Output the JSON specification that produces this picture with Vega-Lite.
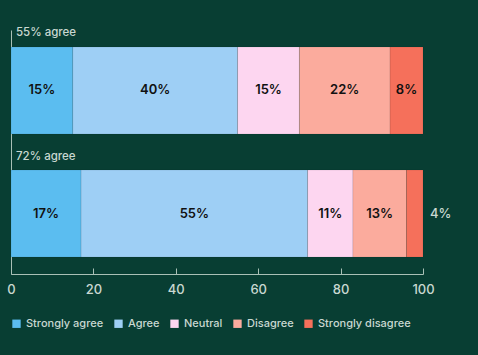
{
  "$schema": "https://vega.github.io/schema/vega-lite/v6.json",
  "autosize": "none",
  "width": 412,
  "height": 244,
  "padding": {"left": 11, "top": 30, "right": 55, "bottom": 81},
  "background": "#083e33",
  "config": {
    "view": {"stroke": null},
    "font": "Inter",
    "axis": {"labelColor": "#c9d8d1", "domainColor": "#a9c0b6", "tickColor": "#a9c0b6", "grid": false}
  },
  "datasets": {
    "resp": [
      {"group": "A", "response": "Strongly agree", "order": 1, "value": 15},
      {"group": "A", "response": "Agree", "order": 2, "value": 40},
      {"group": "A", "response": "Neutral", "order": 3, "value": 15},
      {"group": "A", "response": "Disagree", "order": 4, "value": 22},
      {"group": "A", "response": "Strongly disagree", "order": 5, "value": 8},
      {"group": "B", "response": "Strongly agree", "order": 1, "value": 17},
      {"group": "B", "response": "Agree", "order": 2, "value": 55},
      {"group": "B", "response": "Neutral", "order": 3, "value": 11},
      {"group": "B", "response": "Disagree", "order": 4, "value": 13},
      {"group": "B", "response": "Strongly disagree", "order": 5, "value": 4}
    ],
    "groups": [
      {"group": "A", "label": "55% agree"},
      {"group": "B", "label": "72% agree"}
    ]
  },
  "data": {"name": "resp"},
  "transform": [
    {"stack": "value", "groupby": ["group"], "sort": [{"field": "order"}], "as": ["x0", "x1"]},
    {"calculate": "(datum.x0 + datum.x1) / 2", "as": "mid"},
    {"calculate": "datum.value + '%'", "as": "pct"}
  ],
  "encoding": {
    "y": {
      "field": "group", "type": "nominal",
      "scale": {"paddingInner": 0.293, "paddingOuter": 0.138},
      "axis": {"labels": false, "ticks": false, "title": null, "domain": true}
    }
  },
  "layer": [
    {
      "mark": {"type": "bar", "stroke": "#000000", "strokeOpacity": 0.08, "strokeWidth": 1},
      "encoding": {
        "x": {
          "field": "x0", "type": "quantitative",
          "scale": {"domain": [0, 100], "nice": false},
          "axis": {"values": [0, 20, 40, 60, 80, 100], "title": null, "tickSize": -6, "labelPadding": 15, "labelFontSize": 13, "labelFontWeight": 500, "labelFlush": false}
        },
        "x2": {"field": "x1"},
        "color": {
          "field": "response", "type": "nominal",
          "sort": ["Strongly agree", "Agree", "Neutral", "Disagree", "Strongly disagree"],
          "scale": {
            "domain": ["Strongly agree", "Agree", "Neutral", "Disagree", "Strongly disagree"],
            "range": ["#5bbdf0", "#9ecff5", "#fdd6f0", "#fbab9d", "#f5705b"]
          },
          "legend": {
            "title": null, "orient": "none", "direction": "horizontal",
            "legendX": 0, "legendY": 288,
            "symbolType": "square", "symbolSize": 70, "symbolStrokeWidth": 0,
            "labelColor": "#c9d8d1", "labelFontSize": 11, "labelFontWeight": 500,
            "columnPadding": 9, "labelOffset": 4
          }
        }
      }
    },
    {
      "transform": [{"filter": "datum.value >= 5"}],
      "mark": {"type": "text", "fontSize": 13, "fontWeight": 600, "color": "#111111"},
      "encoding": {
        "x": {"field": "mid", "type": "quantitative"},
        "text": {"field": "pct"},
        "detail": {"field": "response"}
      }
    },
    {
      "transform": [{"filter": "datum.value < 5"}],
      "mark": {"type": "text", "fontSize": 13, "fontWeight": 500, "color": "#c9d8d1", "align": "left", "dx": 7},
      "encoding": {
        "x": {"field": "x1", "type": "quantitative"},
        "text": {"field": "pct"}
      }
    },
    {
      "data": {"name": "groups"},
      "transform": [],
      "mark": {"type": "text", "align": "left", "baseline": "middle", "fontSize": 11.5, "fontWeight": 500, "color": "#c9d8d1", "dx": 5, "yOffset": -57},
      "encoding": {
        "x": {"datum": 0, "type": "quantitative"},
        "text": {"field": "label"}
      }
    }
  ]
}
